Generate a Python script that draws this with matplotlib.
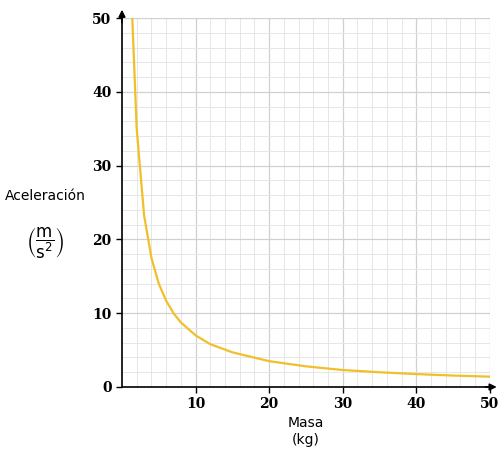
import matplotlib
matplotlib.use("Agg")
import matplotlib.pyplot as plt
import numpy as np

masa = [1.4, 2, 3, 4, 5, 6, 7, 8, 10, 12, 15, 20, 25, 30, 35, 40, 45, 50]
acel = [50, 35, 23.3, 17.5, 14, 11.7, 10, 8.75, 7, 5.8, 4.7, 3.5, 2.8, 2.3, 2.0, 1.75, 1.55, 1.4]
xticks = [10, 20, 30, 40, 50]
yticks = [0, 10, 20, 30, 40, 50]

fig = plt.figure(figsize=(5.03, 4.5), dpi=100)
ax = fig.add_axes([0.2425, 0.14, 0.7315, 0.82])
ax.set_xlim(0, 50)
ax.set_ylim(0, 50)
ax.set_xticks(np.arange(0, 51, 2), minor=True)
ax.set_yticks(np.arange(0, 51, 2), minor=True)
ax.grid(which='minor', color='#e6e6e6', lw=0.7)
ax.grid(which='major', color='#d0d0d0', lw=0.9)
ax.set_axisbelow(True)
ax.plot(masa, acel, color='#f0bf2a', lw=1.6)
for s in ['top', 'right']:
    ax.spines[s].set_visible(False)
ax.spines['left'].set_linewidth(1.2)
ax.spines['bottom'].set_linewidth(1.2)
ax.set_xticks(xticks)
ax.set_yticks(yticks)
ax.tick_params(which='both', length=0)
ax.tick_params(which='major', length=4, direction='out', width=1)
ax.set_xticklabels([str(v) for v in xticks], fontfamily='DejaVu Serif', fontweight='bold', fontsize=10)
ax.set_yticklabels([str(v) for v in yticks], fontfamily='DejaVu Serif', fontweight='bold', fontsize=10)
ax.annotate('', xy=(0, 51.5), xytext=(0, 49), xycoords='data',
            arrowprops=dict(arrowstyle='-|>', color='black', lw=1.2), annotation_clip=False)
ax.annotate('', xy=(51.3, 0), xytext=(49, 0),
            arrowprops=dict(arrowstyle='-|>', color='black', lw=1.2), annotation_clip=False)
fig.text(0.09, 0.565, 'Aceleración', ha='center', va='center', fontsize=10)
fig.text(0.09, 0.46, r'$\left(\dfrac{\mathrm{m}}{\mathrm{s^2}}\right)$', ha='center', va='center', fontsize=12)
fig.text(0.608, 0.06, 'Masa', ha='center', va='center', fontsize=10)
fig.text(0.608, 0.022, '(kg)', ha='center', va='center', fontsize=10)
fig.savefig('out.png', dpi=100)
